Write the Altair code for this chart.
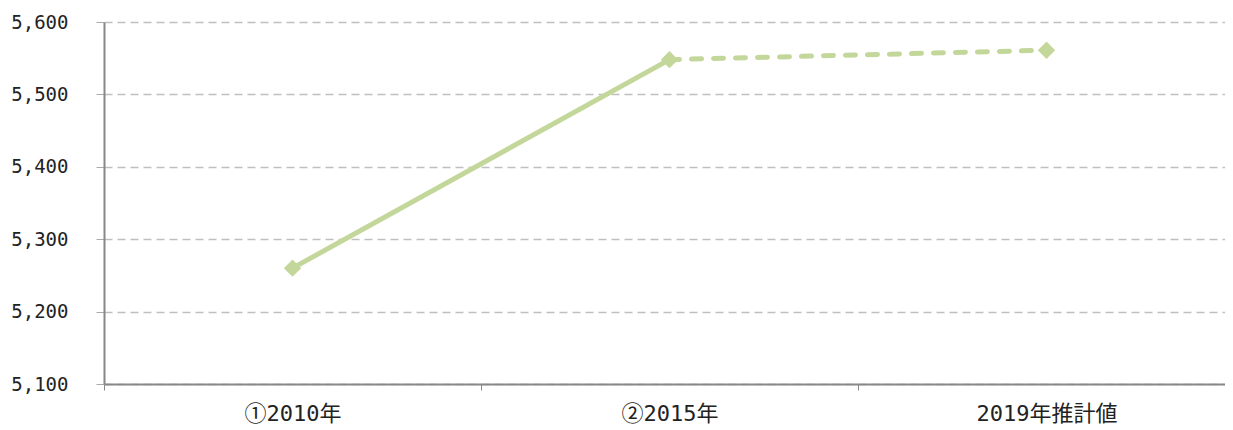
import altair as alt
import pandas as pd

categories = ["①2010年", "②2015年", "2019年推計値"]
values = [5260, 5548, 5561]
series = ["actual", "actual", "estimate"]

rows = [
    {"cat": categories[0], "v": values[0], "s": "actual"},
    {"cat": categories[1], "v": values[1], "s": "actual"},
    {"cat": categories[1], "v": values[1], "s": "estimate"},
    {"cat": categories[2], "v": values[2], "s": "estimate"},
]
df = pd.DataFrame(rows)
pts = pd.DataFrame({"cat": categories, "v": values})

FONT = "DejaVu Sans Mono, Noto Sans CJK JP"
COLOR = "#c4d79b"

x = alt.X("cat:N", sort=categories, title=None,
          scale=alt.Scale(paddingInner=0, paddingOuter=0),
          axis=alt.Axis(labelAngle=0, labelFontSize=22, labelFont=FONT, labelColor="#222",
                        labelPadding=13, tickBand="extent", tickSize=6, tickColor="#888",
                        domainColor="#888", domainWidth=2, grid=False))
y = alt.Y("v:Q", title=None,
          scale=alt.Scale(domain=[5100, 5600], nice=False, zero=False),
          axis=alt.Axis(values=[5100, 5200, 5300, 5400, 5500, 5600], format=",.0f",
                        labelFontSize=19, labelFont=FONT, labelColor="#222", labelPadding=28,
                        tickSize=8, tickColor="#aaa", domainColor="#888", domainWidth=2,
                        gridColor="#bfbfbf", gridDash=[8, 5], gridWidth=1.3))

solid = alt.Chart(df[df.s == "actual"]).mark_line(color=COLOR, strokeWidth=5).encode(x=x, y=y)
dashed = alt.Chart(df[df.s == "estimate"]).mark_line(
    color=COLOR, strokeWidth=5, strokeDash=[10, 12], strokeCap="round").encode(x=x, y=y)
marks = alt.Chart(pts).mark_point(shape="diamond", filled=True, size=300, color=COLOR, opacity=1).encode(x=x, y=y)

chart = alt.layer(solid, dashed, marks).properties(
    width=1131, height=362,
    autosize=alt.AutoSizeParams(type="none"),
    padding={"left": 96, "top": 14, "right": -10, "bottom": 44},
).configure_view(stroke=None)

chart.save("out.html", embed_options={"renderer": "svg", "actions": False})
